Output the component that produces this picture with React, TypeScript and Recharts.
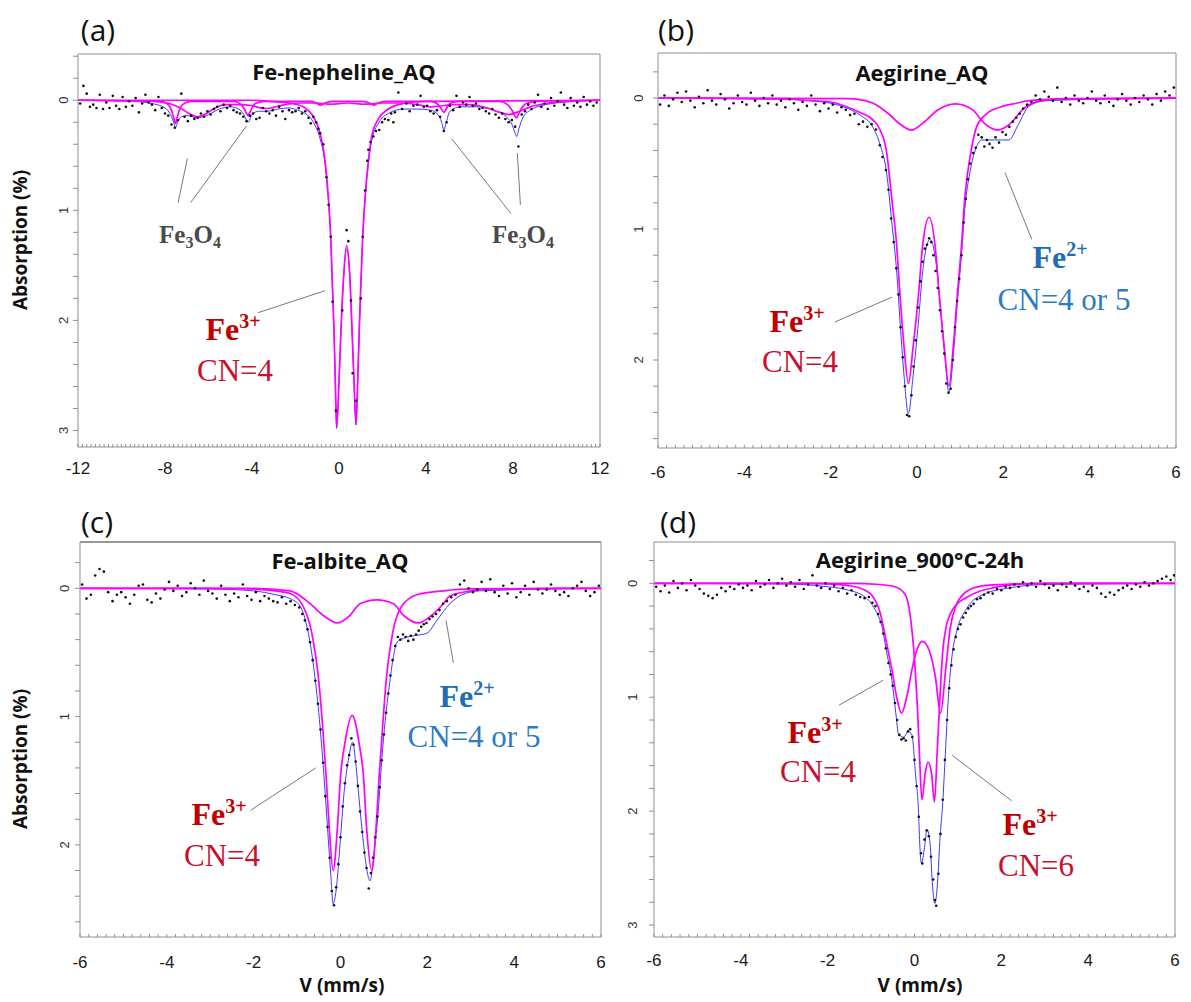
import React from "react";
import { ComposedChart, Line, Scatter, XAxis, YAxis, ReferenceLine } from "recharts";

type Pt = [number, number];

// ---------- (a) Fe-nepheline_AQ : [velocity mm/s, absorption %] ----------
const nephObs: Pt[] = [
  [-11.9, 0.03], [-11.75, -0.13], [-11.6, -0.06], [-11.45, 0.06], [-11.3, 0.04], [-11.15, 0.07], [-11.0, -0.05],
  [-10.85, 0.08], [-10.7, 0.02], [-10.55, 0.07], [-10.4, -0.04], [-10.25, 0.05], [-10.1, 0.08], [-9.95, -0.03],
  [-9.8, 0.06], [-9.65, 0.01], [-9.5, 0.05], [-9.35, -0.02], [-9.2, 0.11], [-9.05, 0.03], [-8.9, -0.05],
  [-8.75, 0.02], [-8.6, 0.04], [-8.45, 0.09], [-8.3, -0.03], [-8.15, 0.07], [-8.0, 0.12], [-7.85, 0.14],
  [-7.7, 0.22], [-7.55, 0.25], [-7.4, 0.18], [-7.25, -0.06], [-7.1, 0.15], [-6.95, 0.19], [-6.8, 0.14],
  [-6.65, 0.17], [-6.5, 0.16], [-6.35, 0.12], [-6.2, 0.15], [-6.05, 0.1], [-5.9, 0.13], [-5.75, 0.08],
  [-5.6, 0.06], [-5.45, 0.1], [-5.3, 0.04], [-5.15, 0.07], [-5.0, 0.05], [-4.85, 0.09], [-4.7, 0.11],
  [-4.55, 0.12], [-4.4, 0.15], [-4.25, 0.19], [-4.1, 0.14], [-3.95, 0.12], [-3.8, 0.17], [-3.65, 0.16],
  [-3.5, 0.07], [-3.35, 0.1], [-3.2, 0.12], [-3.05, 0.09], [-2.9, 0.14], [-2.75, 0.06], [-2.6, 0.1],
  [-2.47, 0.17], [-2.3, 0.09], [-2.15, 0.11], [-2.0, 0.1], [-1.85, 0.07], [-1.7, 0.12], [-1.55, 0.1],
  [-1.4, 0.16], [-1.3, 0.21], [-1.18, 0.15], [-1.05, 0.2], [-0.95, 0.26], [-0.87, 0.3], [-0.72, 0.4],
  [-0.58, 0.7], [-0.48, 0.95], [-0.38, 1.24], [-0.3, 1.83], [-0.14, 2.82], [0.15, 1.91], [0.35, 1.18],
  [0.43, 1.28], [0.55, 1.82], [0.63, 2.48], [0.78, 2.73], [1.0, 1.8], [1.09, 1.24], [1.2, 0.82],
  [1.3, 0.55], [1.35, 0.45], [1.45, 0.38], [1.58, 0.33], [1.7, 0.28], [1.85, 0.27], [1.98, 0.2],
  [2.11, 0.17], [2.27, 0.18], [2.4, 0.12], [2.5, 0.2], [2.57, 0.11], [2.73, -0.07], [2.9, 0.08],
  [3.1, 0.03], [3.25, 0.1], [3.42, 0.05], [3.6, 0.04], [3.75, -0.04], [3.9, 0.06], [4.05, 0.05],
  [4.2, 0.1], [4.35, 0.12], [4.5, 0.09], [4.65, 0.15], [4.82, 0.28], [4.95, 0.2], [5.1, 0.05],
  [5.25, 0.09], [5.4, -0.04], [5.55, 0.06], [5.7, 0.02], [5.85, 0.04], [6.0, -0.03], [6.15, 0.05],
  [6.3, 0.03], [6.45, 0.08], [6.6, 0.07], [6.75, 0.1], [6.9, 0.12], [7.05, 0.08], [7.2, 0.13],
  [7.35, 0.16], [7.5, 0.12], [7.65, 0.17], [7.8, 0.2], [7.95, 0.18], [8.1, 0.24], [8.25, 0.42],
  [8.4, 0.13], [8.55, 0.1], [8.7, 0.04], [8.85, 0.08], [9.0, 0.02], [9.15, -0.05], [9.3, 0.06],
  [9.45, 0.03], [9.6, 0.08], [9.75, -0.02], [9.9, 0.05], [10.05, 0.01], [10.2, -0.07], [10.35, 0.04],
  [10.5, 0.07], [10.65, -0.02], [10.8, 0.05], [10.95, 0.02], [11.1, 0.06], [11.25, -0.03], [11.4, 0.04],
  [11.55, 0.01], [11.7, 0.05], [11.85, 0.02],
];
const nephTotal: Pt[] = [
  [-12, 0], [-9.5, 0.01], [-8.6, 0.03], [-8.0, 0.07], [-7.75, 0.13], [-7.6, 0.2], [-7.52, 0.25], [-7.42, 0.2],
  [-7.25, 0.15], [-7.0, 0.14], [-6.5, 0.16], [-6.0, 0.13], [-5.5, 0.08], [-5.0, 0.06], [-4.6, 0.08],
  [-4.38, 0.13], [-4.18, 0.2], [-4.0, 0.13], [-3.7, 0.1], [-3.3, 0.1], [-2.8, 0.08], [-2.3, 0.07],
  [-1.9, 0.09], [-1.64, 0.11], [-1.18, 0.2], [-0.87, 0.35], [-0.64, 0.58], [-0.49, 0.9], [-0.38, 1.26],
  [-0.31, 1.66], [-0.23, 2.1], [-0.17, 2.56], [-0.11, 2.98], [0, 2.56], [0.09, 2.1], [0.2, 1.66],
  [0.35, 1.35], [0.51, 1.66], [0.6, 2.1], [0.69, 2.56], [0.78, 2.95], [0.86, 2.56], [0.93, 2.1],
  [1.01, 1.66], [1.09, 1.26], [1.2, 0.9], [1.35, 0.58], [1.5, 0.37], [1.81, 0.21], [2.27, 0.12],
  [2.96, 0.08], [3.6, 0.08], [4.2, 0.09], [4.55, 0.13], [4.72, 0.2], [4.82, 0.27], [4.93, 0.2],
  [5.1, 0.1], [5.6, 0.06], [6.4, 0.06], [7.2, 0.1], [7.7, 0.15], [7.95, 0.22], [8.1, 0.3], [8.17, 0.33],
  [8.27, 0.26], [8.45, 0.16], [8.8, 0.09], [9.5, 0.04], [10.5, 0.015], [12, 0],
];
const nephFe3: Pt[] = [
  [-12, 0], [-4, 0], [-3.2, 0.01], [-2.5, 0.02], [-2, 0.035], [-1.64, 0.06], [-1.18, 0.15], [-0.87, 0.3],
  [-0.64, 0.55], [-0.49, 0.88], [-0.38, 1.24], [-0.31, 1.64], [-0.23, 2.09], [-0.17, 2.55], [-0.11, 2.97],
  [0, 2.55], [0.09, 2.09], [0.2, 1.64], [0.35, 1.32], [0.51, 1.64], [0.6, 2.09], [0.69, 2.55], [0.78, 2.94],
  [0.86, 2.55], [0.93, 2.09], [1.01, 1.64], [1.09, 1.24], [1.2, 0.88], [1.35, 0.55], [1.5, 0.33],
  [1.81, 0.17], [2.27, 0.08], [2.96, 0.03], [4, 0.01], [12, 0],
];
const nephMagSharp: Pt[] = [
  [-12, 0], [-8.2, 0.01], [-7.85, 0.04], [-7.7, 0.09], [-7.6, 0.16], [-7.52, 0.21], [-7.44, 0.16], [-7.34, 0.09],
  [-7.2, 0.04], [-6.8, 0.01], [-4.8, 0.01], [-4.5, 0.04], [-4.35, 0.08], [-4.25, 0.12], [-4.18, 0.14],
  [-4.1, 0.11], [-4.0, 0.07], [-3.85, 0.03], [-3.4, 0.01], [-1.3, 0.01], [-1.05, 0.025], [-0.85, 0.045],
  [-0.65, 0.025], [-0.3, 0.01], [1.1, 0.01], [1.4, 0.025], [1.6, 0.045], [1.8, 0.025], [2.1, 0.01],
  [4.2, 0.01], [4.5, 0.03], [4.68, 0.07], [4.82, 0.11], [4.95, 0.07], [5.1, 0.03], [5.5, 0.01],
  [7.4, 0.01], [7.75, 0.04], [7.95, 0.09], [8.08, 0.14], [8.17, 0.16], [8.27, 0.12], [8.4, 0.07],
  [8.6, 0.03], [9.1, 0.01], [12, 0],
];
const nephMagBroad: Pt[] = [
  [-12, 0], [-8.5, 0.01], [-7.8, 0.03], [-7.3, 0.07], [-6.9, 0.12], [-6.5, 0.15], [-6.1, 0.12], [-5.7, 0.07],
  [-5.2, 0.04], [-4.6, 0.04], [-4.0, 0.05], [-3.6, 0.07], [-3.3, 0.075], [-3.0, 0.065], [-2.5, 0.04],
  [-1.8, 0.025], [-1.0, 0.025], [-0.4, 0.035], [0.4, 0.025], [1.2, 0.035], [2.0, 0.025], [2.8, 0.025],
  [3.6, 0.04], [4.2, 0.06], [4.6, 0.055], [5.2, 0.04], [6.0, 0.04], [6.8, 0.07], [7.4, 0.11], [7.8, 0.13],
  [8.3, 0.1], [8.8, 0.06], [9.5, 0.03], [10.5, 0.01], [12, 0],
];

// ---------- (b) Aegirine_AQ ----------
const aegObs: Pt[] = [
  [-5.95, 0.05], [-5.85, -0.02], [-5.75, 0.06], [-5.65, 0.01], [-5.55, -0.04], [-5.45, 0.03], [-5.35, -0.05],
  [-5.25, 0.02], [-5.15, 0.07], [-5.05, -0.01], [-4.95, 0.04], [-4.85, -0.06], [-4.75, 0.02], [-4.65, 0.05],
  [-4.55, -0.03], [-4.45, 0.01], [-4.35, 0.08], [-4.25, 0.04], [-4.15, -0.02], [-4.05, 0.03], [-3.95, 0.05],
  [-3.85, -0.04], [-3.75, 0.02], [-3.65, 0.06], [-3.55, 0.0], [-3.45, 0.04], [-3.35, -0.02], [-3.25, 0.05],
  [-3.15, 0.02], [-3.05, 0.07], [-2.95, 0.01], [-2.85, 0.04], [-2.75, 0.09], [-2.65, 0.03], [-2.55, 0.06],
  [-2.45, -0.02], [-2.35, 0.05], [-2.25, 0.1], [-2.15, 0.04], [-2.05, 0.08], [-1.95, 0.05], [-1.85, 0.11],
  [-1.75, 0.07], [-1.65, 0.09], [-1.55, 0.13], [-1.45, 0.12], [-1.35, 0.2], [-1.25, 0.18], [-1.15, 0.22],
  [-1.05, 0.2], [-0.95, 0.24], [-0.86, 0.36], [-0.8, 0.45], [-0.72, 0.55], [-0.66, 0.7], [-0.6, 0.92],
  [-0.54, 1.1], [-0.48, 1.3], [-0.43, 1.5], [-0.38, 1.75], [-0.33, 1.98], [-0.28, 2.2], [-0.23, 2.42],
  [-0.18, 2.43], [-0.13, 2.27], [-0.08, 2.05], [-0.03, 1.85], [0.02, 1.6], [0.08, 1.4], [0.13, 1.25],
  [0.18, 1.15], [0.23, 1.12], [0.28, 1.07], [0.33, 1.1], [0.38, 1.2], [0.43, 1.32], [0.48, 1.45],
  [0.53, 1.62], [0.58, 1.78], [0.63, 1.95], [0.68, 2.18], [0.73, 2.25], [0.78, 2.22], [0.83, 2.0],
  [0.88, 1.75], [0.93, 1.55], [0.98, 1.38], [1.03, 1.2], [1.08, 0.95], [1.13, 0.77], [1.18, 0.62],
  [1.23, 0.5], [1.3, 0.42], [1.36, 0.38], [1.42, 0.28], [1.5, 0.3], [1.56, 0.37], [1.62, 0.32],
  [1.68, 0.35], [1.75, 0.38], [1.82, 0.3], [1.9, 0.34], [1.98, 0.26], [2.06, 0.28], [2.14, 0.22],
  [2.22, 0.18], [2.3, 0.15], [2.38, 0.12], [2.46, 0.08], [2.55, 0.05], [2.65, 0.03], [2.75, -0.02],
  [2.85, 0.01], [2.95, -0.05], [3.05, -0.01], [3.15, 0.02], [3.25, -0.08], [3.35, 0.03], [3.45, 0.0],
  [3.55, 0.05], [3.65, -0.02], [3.75, 0.02], [3.85, 0.04], [3.95, 0.0], [4.05, -0.05], [4.15, 0.02],
  [4.25, 0.04], [4.35, -0.02], [4.45, 0.03], [4.55, 0.06], [4.65, 0.01], [4.75, -0.03], [4.85, 0.02],
  [4.95, 0.05], [5.05, 0.0], [5.15, 0.03], [5.25, -0.02], [5.35, 0.01], [5.45, 0.05], [5.55, -0.03],
  [5.65, 0.02], [5.75, -0.05], [5.85, -0.02], [5.95, -0.08],
];
const aegTotal: Pt[] = [
  [-6, 0], [-3, 0.01], [-2.5, 0.02], [-2, 0.04], [-1.6, 0.08], [-1.32, 0.13], [-1.01, 0.23], [-0.86, 0.35],
  [-0.7, 0.58], [-0.59, 0.93], [-0.47, 1.33], [-0.39, 1.72], [-0.3, 2.12], [-0.2, 2.41], [-0.09, 2.12],
  [0.03, 1.72], [0.13, 1.33], [0.3, 1.08], [0.45, 1.28], [0.55, 1.62], [0.65, 1.98], [0.74, 2.25],
  [0.84, 1.97], [0.93, 1.58], [1.03, 1.2], [1.11, 0.84], [1.23, 0.56], [1.37, 0.38], [1.5, 0.32],
  [1.8, 0.32], [2.13, 0.32], [2.35, 0.2], [2.6, 0.06], [3.0, 0.02], [6, 0],
];
const aegFe3: Pt[] = [
  [-6, 0], [-3, 0.005], [-2.7, 0.015], [-2, 0.03], [-1.6, 0.07], [-1.32, 0.11], [-1.01, 0.17], [-0.86, 0.24],
  [-0.7, 0.42], [-0.59, 0.75], [-0.47, 1.13], [-0.39, 1.52], [-0.3, 1.9], [-0.2, 2.18], [-0.09, 1.9],
  [0.03, 1.52], [0.13, 1.13], [0.28, 0.91], [0.42, 1.13], [0.52, 1.52], [0.63, 1.9], [0.74, 2.2],
  [0.84, 1.9], [0.93, 1.52], [1.03, 1.13], [1.11, 0.75], [1.23, 0.45], [1.38, 0.22], [1.61, 0.12],
  [1.92, 0.07], [2.3, 0.04], [2.6, 0.02], [3.5, 0.005], [6, 0],
];
const aegFe2: Pt[] = [
  [-6, 0], [-1.6, 0.005], [-1.2, 0.02], [-0.9, 0.06], [-0.66, 0.12], [-0.39, 0.2], [-0.13, 0.245], [0.14, 0.19],
  [0.49, 0.09], [0.89, 0.045], [1.29, 0.09], [1.55, 0.19], [1.87, 0.245], [2.18, 0.19], [2.44, 0.09],
  [2.8, 0.025], [3.2, 0.008], [6, 0],
];

// ---------- (c) Fe-albite_AQ ----------
const albObs: Pt[] = [
  [-5.95, -0.03], [-5.85, 0.08], [-5.75, 0.05], [-5.65, -0.1], [-5.55, -0.15], [-5.45, -0.13], [-5.35, 0.03],
  [-5.25, 0.1], [-5.15, 0.05], [-5.05, 0.03], [-4.95, 0.07], [-4.85, 0.12], [-4.75, 0.05], [-4.65, -0.02],
  [-4.55, -0.03], [-4.45, 0.09], [-4.35, 0.11], [-4.25, 0.04], [-4.15, 0.08], [-4.05, 0.01], [-3.95, -0.05],
  [-3.85, 0.02], [-3.75, -0.02], [-3.65, 0.06], [-3.55, 0.03], [-3.45, -0.04], [-3.35, 0.0], [-3.25, 0.05],
  [-3.15, -0.06], [-3.05, 0.02], [-2.95, 0.04], [-2.85, 0.08], [-2.75, -0.02], [-2.65, 0.05], [-2.55, 0.1],
  [-2.45, 0.04], [-2.35, 0.07], [-2.25, -0.03], [-2.15, 0.06], [-2.05, 0.09], [-1.95, 0.03], [-1.85, 0.1],
  [-1.75, 0.06], [-1.65, 0.08], [-1.55, 0.1], [-1.45, 0.11], [-1.35, 0.07], [-1.25, 0.12], [-1.15, 0.1],
  [-1.05, 0.13], [-0.95, 0.15], [-0.88, 0.2], [-0.82, 0.25], [-0.76, 0.32], [-0.7, 0.42], [-0.64, 0.56],
  [-0.58, 0.72], [-0.52, 0.9], [-0.46, 1.1], [-0.4, 1.36], [-0.35, 1.62], [-0.3, 1.86], [-0.25, 2.1],
  [-0.2, 2.36], [-0.15, 2.47], [-0.1, 2.33], [-0.05, 2.15], [0.0, 1.94], [0.05, 1.7], [0.1, 1.52],
  [0.15, 1.38], [0.2, 1.3], [0.25, 1.17], [0.3, 1.22], [0.35, 1.35], [0.4, 1.54], [0.45, 1.74],
  [0.5, 1.9], [0.55, 2.06], [0.6, 2.18], [0.65, 2.34], [0.7, 2.22], [0.75, 2.1], [0.8, 1.94],
  [0.85, 1.78], [0.9, 1.55], [0.95, 1.34], [1.0, 1.14], [1.05, 0.97], [1.1, 0.82], [1.15, 0.68],
  [1.2, 0.56], [1.26, 0.45], [1.32, 0.38], [1.38, 0.4], [1.44, 0.36], [1.5, 0.38], [1.56, 0.41],
  [1.62, 0.37], [1.68, 0.4], [1.74, 0.36], [1.8, 0.33], [1.86, 0.3], [1.92, 0.28], [1.98, 0.27],
  [2.05, 0.24], [2.12, 0.22], [2.2, 0.2], [2.28, 0.17], [2.36, 0.12], [2.45, 0.1], [2.55, 0.07],
  [2.65, 0.05], [2.75, -0.03], [2.85, -0.06], [2.95, 0.0], [3.05, 0.03], [3.15, 0.01], [3.25, -0.05],
  [3.35, 0.02], [3.45, -0.07], [3.55, 0.03], [3.65, 0.06], [3.75, -0.02], [3.85, 0.04], [3.95, -0.04],
  [4.05, 0.07], [4.15, 0.03], [4.25, -0.02], [4.35, 0.05], [4.45, -0.05], [4.55, 0.01], [4.65, 0.04],
  [4.75, 0.01], [4.85, -0.03], [4.95, 0.02], [5.05, 0.05], [5.15, 0.03], [5.25, 0.06], [5.35, 0.0],
  [5.45, -0.02], [5.55, -0.05], [5.65, 0.02], [5.75, 0.06], [5.85, 0.03], [5.95, -0.02],
];
const albTotal: Pt[] = [
  [-6, 0], [-3, 0.005], [-2, 0.02], [-1.5, 0.05], [-1.16, 0.08], [-0.93, 0.14], [-0.74, 0.35], [-0.59, 0.69],
  [-0.47, 1.08], [-0.38, 1.47], [-0.3, 1.86], [-0.22, 2.25], [-0.17, 2.46], [-0.12, 2.4], [-0.07, 2.25],
  [-0.01, 1.99], [0.08, 1.6], [0.18, 1.34], [0.28, 1.2], [0.35, 1.36], [0.43, 1.65], [0.53, 1.99],
  [0.62, 2.22], [0.68, 2.28], [0.77, 2.07], [0.87, 1.73], [0.95, 1.34], [1.03, 1.03], [1.12, 0.77],
  [1.22, 0.53], [1.3, 0.42], [1.45, 0.39], [1.7, 0.37], [1.99, 0.35], [2.22, 0.25], [2.52, 0.12],
  [2.8, 0.05], [3.2, 0.02], [6, 0],
];
const albFe3: Pt[] = [
  [-6, 0], [-3, 0], [-2.08, 0.005], [-1.5, 0.02], [-1.16, 0.04], [-0.86, 0.14], [-0.66, 0.35], [-0.51, 0.69],
  [-0.41, 1.08], [-0.33, 1.47], [-0.26, 1.86], [-0.17, 2.2], [-0.07, 1.86], [0.0, 1.47], [0.1, 1.21],
  [0.27, 0.99], [0.43, 1.21], [0.53, 1.47], [0.6, 1.86], [0.72, 2.2], [0.82, 1.86], [0.89, 1.47],
  [0.97, 1.08], [1.06, 0.69], [1.2, 0.35], [1.41, 0.14], [1.76, 0.05], [2.37, 0.02], [3, 0.005], [6, 0],
];
const albFe2: Pt[] = [
  [-6, 0], [-2.08, 0], [-1.16, 0.02], [-0.7, 0.12], [-0.4, 0.21], [-0.07, 0.27], [0.22, 0.21], [0.45, 0.12],
  [0.83, 0.09], [1.22, 0.12], [1.45, 0.21], [1.79, 0.27], [2.1, 0.21], [2.37, 0.12], [2.52, 0.06],
  [3.0, 0.02], [3.5, 0.005], [6, 0],
];

// ---------- (d) Aegirine_900°C-24h ----------
const heatObs: Pt[] = [
  [-5.95, 0.03], [-5.85, 0.07], [-5.75, 0.02], [-5.65, 0.08], [-5.55, -0.02], [-5.45, 0.04], [-5.35, 0.0],
  [-5.25, 0.06], [-5.15, -0.03], [-5.05, 0.02], [-4.95, 0.05], [-4.85, 0.09], [-4.75, 0.11], [-4.65, 0.13],
  [-4.55, 0.1], [-4.45, 0.04], [-4.35, 0.07], [-4.25, 0.03], [-4.15, 0.05], [-4.05, 0.01], [-3.95, 0.04],
  [-3.85, 0.02], [-3.75, 0.06], [-3.65, -0.02], [-3.55, 0.03], [-3.45, 0.01], [-3.35, -0.03], [-3.25, 0.04],
  [-3.15, 0.0], [-3.05, -0.04], [-2.95, 0.02], [-2.85, -0.01], [-2.75, 0.03], [-2.65, -0.03], [-2.55, 0.05],
  [-2.45, 0.01], [-2.35, -0.07], [-2.25, 0.02], [-2.15, 0.04], [-2.05, 0.0], [-1.95, 0.05], [-1.85, 0.02],
  [-1.75, 0.07], [-1.65, 0.04], [-1.55, 0.09], [-1.45, 0.06], [-1.35, 0.1], [-1.25, 0.12], [-1.15, 0.13],
  [-1.05, 0.12], [-0.97, 0.17], [-0.9, 0.2], [-0.84, 0.27], [-0.78, 0.34], [-0.72, 0.44], [-0.66, 0.57],
  [-0.6, 0.7], [-0.55, 0.8], [-0.5, 0.9], [-0.45, 1.05], [-0.4, 1.2], [-0.35, 1.33], [-0.3, 1.37],
  [-0.25, 1.36], [-0.2, 1.38], [-0.15, 1.3], [-0.1, 1.28], [-0.05, 1.35], [0.0, 1.55], [0.05, 1.78],
  [0.1, 2.05], [0.15, 2.37], [0.18, 2.46], [0.23, 2.25], [0.28, 2.17], [0.33, 2.22], [0.38, 2.4],
  [0.43, 2.6], [0.47, 2.78], [0.5, 2.83], [0.55, 2.55], [0.6, 2.2], [0.65, 1.9], [0.7, 1.55],
  [0.75, 1.2], [0.8, 0.92], [0.85, 0.72], [0.9, 0.58], [0.95, 0.47], [1.0, 0.4], [1.06, 0.36],
  [1.12, 0.3], [1.18, 0.26], [1.24, 0.22], [1.3, 0.2], [1.36, 0.18], [1.44, 0.14], [1.52, 0.13],
  [1.6, 0.1], [1.7, 0.08], [1.8, 0.09], [1.9, 0.05], [2.0, 0.06], [2.1, 0.03], [2.2, 0.04], [2.3, 0.01],
  [2.4, 0.03], [2.5, -0.01], [2.6, 0.02], [2.7, 0.0], [2.8, 0.03], [2.9, -0.02], [3.0, 0.01], [3.1, 0.04],
  [3.2, 0.02], [3.3, 0.06], [3.4, 0.01], [3.5, 0.03], [3.6, -0.01], [3.7, 0.02], [3.8, 0.05], [3.9, 0.03],
  [4.0, 0.07], [4.1, 0.02], [4.2, 0.04], [4.3, 0.09], [4.4, 0.12], [4.5, 0.08], [4.6, 0.1], [4.7, 0.06],
  [4.8, 0.04], [4.9, 0.02], [5.0, 0.05], [5.1, 0.01], [5.2, 0.03], [5.3, -0.01], [5.4, 0.02], [5.5, 0.0],
  [5.6, -0.02], [5.7, -0.04], [5.8, -0.06], [5.9, -0.03], [5.98, -0.07],
];
const heatTotal: Pt[] = [
  [-6, 0], [-3, 0.005], [-2.61, 0.01], [-2, 0.03], [-1.52, 0.06], [-1.14, 0.12], [-0.91, 0.23], [-0.75, 0.38],
  [-0.64, 0.61], [-0.52, 0.85], [-0.43, 1.14], [-0.37, 1.32], [-0.25, 1.35], [-0.14, 1.3], [-0.06, 1.33],
  [0.03, 1.71], [0.09, 1.98], [0.12, 2.28], [0.16, 2.46], [0.23, 2.32], [0.29, 2.16], [0.36, 2.29],
  [0.41, 2.63], [0.47, 2.81], [0.53, 2.63], [0.59, 2.22], [0.65, 1.93], [0.71, 1.5], [0.78, 1.0],
  [0.87, 0.62], [0.96, 0.44], [1.22, 0.21], [1.57, 0.1], [2.19, 0.04], [3.0, 0.01], [6, 0],
];
const heatFe3Cn4: Pt[] = [
  [-6, 0], [-2.5, 0], [-1.8, 0.01], [-1.52, 0.02], [-1.14, 0.06], [-0.99, 0.1], [-0.79, 0.26], [-0.64, 0.53],
  [-0.52, 0.76], [-0.41, 1.0], [-0.3, 1.14], [-0.18, 1.0], [-0.06, 0.76], [0.05, 0.59], [0.18, 0.51],
  [0.34, 0.59], [0.48, 0.82], [0.6, 1.14], [0.72, 0.75], [0.82, 0.4], [0.95, 0.2], [1.09, 0.11],
  [1.3, 0.05], [1.6, 0.02], [2.0, 0.01], [3, 0], [6, 0],
];
const heatFe3Cn6: Pt[] = [
  [-6, 0], [-1.5, 0], [-0.8, 0.01], [-0.45, 0.03], [-0.21, 0.1], [-0.1, 0.28], [0.0, 0.67], [0.07, 1.11],
  [0.12, 1.55], [0.17, 1.9], [0.25, 1.66], [0.31, 1.57], [0.39, 1.66], [0.46, 1.92], [0.52, 1.5],
  [0.58, 1.05], [0.65, 0.6], [0.73, 0.38], [0.85, 0.25], [0.98, 0.18], [1.22, 0.12], [1.5, 0.07],
  [1.8, 0.04], [2.2, 0.015], [3, 0], [6, 0],
];

// ---------- styling ----------
const MAGENTA = "#ff00ff";
const BLUE = "#3b3bff";
const AXIS = "#8f8f8f";
const SANS = "'Open Sans', Lato, sans-serif";
const ARIAL = "'Liberation Sans', Arial, sans-serif";
const SERIF = "'Liberation Serif', 'Times New Roman', serif";
const RED = "#c00000";
const CRIMSON = "#c8102e";
const FE2_BLUE = "#1f6db5";
const CN_BLUE = "#2e7cc0";

const steps = (from: number, to: number, step: number) =>
  Array.from({ length: Math.round((to - from) / step) + 1 }, (_, i) => Math.round((from + i * step) * 100) / 100);

const pts = (arr: Pt[]) => arr.map(([v, a]) => ({ v, a }));

function YTick(props: any) {
  const { x, y, payload, gap } = props;
  const v = payload.value;
  if (Math.abs(v - Math.round(v)) > 1e-6) return <g />;
  const cx = x - gap;
  return (
    <text x={cx} y={y} transform={`rotate(-90 ${cx} ${y})`} textAnchor="middle" dominantBaseline="central"
      fontSize={13} fill="#333" fontFamily={ARIAL}>
      {Math.round(v)}
    </text>
  );
}

const dotShape = (p: any) => <circle cx={p.cx} cy={p.cy} r={1.3} fill="#111" />;

function Panel(props: any) {
  const { left, top, width, height, margin, yWidth, xHeight, xDomain, yDomain, xTicks, xEvery, yTicks,
    yGap, xTickMargin, obs, total, parts, leaders, frame } = props;
  return (
    <div style={{ position: "absolute", left, top }}>
      <ComposedChart width={width} height={height} margin={margin}>
        <XAxis dataKey="v" type="number" domain={xDomain} ticks={xTicks} interval={0} allowDataOverflow
          tickFormatter={(v: number) => (Math.abs(v / xEvery - Math.round(v / xEvery)) < 1e-6 ? String(Math.round(v)) : "")}
          height={xHeight} tickSize={-3} tickMargin={xTickMargin}
          axisLine={{ stroke: AXIS }} tickLine={{ stroke: AXIS }}
          tick={{ fontSize: 17, fill: "#1a1a1a", fontFamily: ARIAL }} />
        <YAxis dataKey="a" type="number" domain={yDomain} reversed ticks={yTicks} interval={0} allowDataOverflow
          width={yWidth} tickSize={5} tickMargin={2} axisLine={{ stroke: AXIS }} tickLine={{ stroke: AXIS }}
          tick={(p: any) => <YTick {...p} gap={yGap} />} />
        <ReferenceLine y={yDomain[0]} stroke={frame || AXIS} />
        <ReferenceLine x={xDomain[1]} stroke={AXIS} />
        <Line data={pts(total)} dataKey="a" type="monotone" stroke={BLUE} strokeWidth={1} dot={false}
          isAnimationActive={false} />
        {parts.map((p: Pt[], i: number) => (
          <Line key={i} data={pts(p)} dataKey="a" type="monotone" stroke={MAGENTA} strokeWidth={1.7} dot={false}
            isAnimationActive={false} />
        ))}
        {leaders.map((l: number[], i: number) => (
          <ReferenceLine key={"l" + i} segment={[{ x: l[0], y: l[1] }, { x: l[2], y: l[3] }]} stroke="#555"
            strokeWidth={0.8} />
        ))}
        <Scatter data={pts(obs)} dataKey="a" shape={dotShape} isAnimationActive={false} />
      </ComposedChart>
    </div>
  );
}

function Ion({ x, y, charge, color }: any) {
  return (
    <text x={x} y={y} textAnchor="middle" fontFamily={SERIF} fontWeight="bold" fontSize={32} fill={color}>
      Fe<tspan dy={-12} fontSize={20}>{charge}</tspan>
    </text>
  );
}

function Magnetite({ x, y }: any) {
  return (
    <text x={x} y={y} textAnchor="middle" fontFamily={SERIF} fontWeight="bold" fontSize={25} fill="#4a4a4a">
      Fe<tspan dy={5} fontSize={16}>3</tspan><tspan dy={-5}>O</tspan><tspan dy={5} fontSize={16}>4</tspan>
    </text>
  );
}

function Cn({ x, y, text, color }: any) {
  return (
    <text x={x} y={y} textAnchor="middle" fontFamily={SERIF} fontSize={31} fill={color}>{text}</text>
  );
}

export default function App() {
  const titles = [
    { x: 344, y: 80, t: "Fe-nepheline_AQ" },
    { x: 922, y: 81, t: "Aegirine_AQ" },
    { x: 340, y: 569, t: "Fe-albite_AQ" },
    { x: 920, y: 568, t: "Aegirine_900°C-24h" },
  ];
  const letters = [
    { x: 98, y: 41, t: "(a)" },
    { x: 676, y: 41, t: "(b)" },
    { x: 97, y: 533, t: "(c)" },
    { x: 678, y: 533, t: "(d)" },
  ];
  return (
    <div style={{ position: "absolute", left: 0, top: 0, width: 1191, height: 1002, background: "#fff" }}>
      <Panel left={0} top={0} width={620} height={500} margin={{ top: 54, right: 20, bottom: 0, left: 0 }}
        yWidth={78} xHeight={53} xDomain={[-12, 12]} yDomain={[-0.42, 3.15]} xTicks={steps(-12, 12, 0.2)} xEvery={4}
        yTicks={steps(-0.4, 3, 0.2)} yGap={7} xTickMargin={18}
        obs={nephObs} total={nephTotal} parts={[nephMagBroad, nephMagSharp, nephFe3]}
        leaders={[[-7.4, 0.93, -6.97, 0.53], [-6.82, 0.93, -4.24, 0.23], [7.91, 1.03, 5.18, 0.35],
          [8.34, 0.95, 8.2, 0.48], [-3.72, 1.93, -0.64, 1.73]]} />
      <Panel left={580} top={0} width={611} height={500} margin={{ top: 53, right: 15, bottom: 0, left: 0 }}
        yWidth={78} xHeight={52} xDomain={[-6, 6]} yDomain={[-0.344, 2.672]} xTicks={steps(-6, 6, 0.2)} xEvery={2}
        yTicks={steps(-0.2, 2.6, 0.2)} yGap={12} xTickMargin={21}
        obs={aegObs} total={aegTotal} parts={[aegFe2, aegFe3]}
        leaders={[[2.04, 0.57, 2.66, 1.08], [-1.9, 1.71, -0.58, 1.52]]} />
      <Panel left={0} top={490} width={620} height={510} margin={{ top: 52, right: 19, bottom: 0, left: 0 }}
        yWidth={80} xHeight={63} xDomain={[-6, 6]} yDomain={[-0.361, 2.718]} xTicks={steps(-6, 6, 0.2)} xEvery={2}
        yTicks={steps(-0.2, 2.6, 0.2)} yGap={8} xTickMargin={22} frame="#333"
        obs={albObs} total={albTotal} parts={[albFe2, albFe3]}
        leaders={[[2.6, 0.58, 2.43, 0.25], [-2.07, 1.73, -0.57, 1.4]]} />
      <Panel left={580} top={490} width={611} height={510} margin={{ top: 52, right: 16, bottom: 0, left: 0 }}
        yWidth={74} xHeight={63} xDomain={[-6, 6]} yDomain={[-0.363, 3.105]} xTicks={steps(-6, 6, 0.2)} xEvery={2}
        yTicks={steps(-0.2, 3, 0.2)} yGap={14} xTickMargin={20}
        obs={heatObs} total={heatTotal} parts={[heatFe3Cn4, heatFe3Cn6]}
        leaders={[[-1.74, 1.07, -0.72, 0.85], [2.24, 1.91, 0.87, 1.51]]} />

      <svg width={1191} height={1002} style={{ position: "absolute", left: 0, top: 0, pointerEvents: "none" }}>
        {letters.map((l) => (
          <text key={l.t} x={l.x} y={l.y} textAnchor="middle" fontFamily={SANS} fontSize={30} fill="#111">{l.t}</text>
        ))}
        {titles.map((t) => (
          <text key={t.t} x={t.x} y={t.y} textAnchor="middle" fontFamily={SANS} fontWeight="bold" fontSize={22}
            fill="#111">{t.t}</text>
        ))}
        <text transform="translate(27 240) rotate(-90)" textAnchor="middle" fontFamily={SANS} fontWeight="bold"
          fontSize={19} fill="#111">Absorption (%)</text>
        <text transform="translate(27 759) rotate(-90)" textAnchor="middle" fontFamily={SANS} fontWeight="bold"
          fontSize={19} fill="#111">Absorption (%)</text>
        <text x={342} y={992} textAnchor="middle" fontFamily={SANS} fontWeight="bold" fontSize={19} fill="#111">V (mm/s)</text>
        <text x={920} y={992} textAnchor="middle" fontFamily={SANS} fontWeight="bold" fontSize={19} fill="#111">V (mm/s)</text>

        <Magnetite x={190} y={243} />
        <Magnetite x={523} y={243} />
        <Ion x={233} y={340} charge="3+" color={RED} />
        <Cn x={235} y={381} text="CN=4" color={CRIMSON} />

        <Ion x={1060} y={268} charge="2+" color={FE2_BLUE} />
        <Cn x={1064} y={310} text="CN=4 or 5" color={CN_BLUE} />
        <Ion x={797} y={332} charge="3+" color={RED} />
        <Cn x={800} y={372} text="CN=4" color={CRIMSON} />

        <Ion x={467} y={707} charge="2+" color={FE2_BLUE} />
        <Cn x={474} y={747} text="CN=4 or 5" color={CN_BLUE} />
        <Ion x={219} y={825} charge="3+" color={RED} />
        <Cn x={222} y={866} text="CN=4" color={CRIMSON} />

        <Ion x={815} y={743} charge="3+" color={RED} />
        <Cn x={818} y={782} text="CN=4" color={CRIMSON} />
        <Ion x={1030} y={835} charge="3+" color={RED} />
        <Cn x={1036} y={876} text="CN=6" color={CRIMSON} />
      </svg>
    </div>
  );
}
